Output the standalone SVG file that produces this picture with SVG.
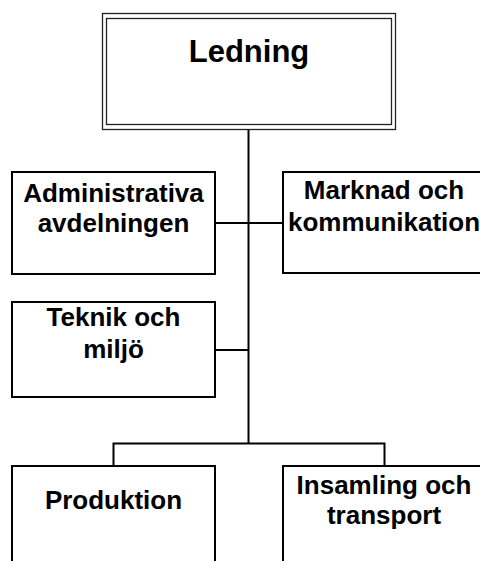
<svg xmlns="http://www.w3.org/2000/svg" width="480" height="561" viewBox="0 0 480 561">
<style>
.box{fill:#fff;stroke:#000;stroke-width:2}
.dbl{fill:none;stroke:#222;stroke-width:1.3}
.t{font-family:"Liberation Sans",Arial,sans-serif;font-weight:bold;font-size:26px;fill:#000;text-anchor:middle}
.big{font-size:31px}
.conn{fill:none;stroke:#000;stroke-width:2}
</style>
<rect width="480" height="561" fill="#fff"/>
<g id="connectors">
<path class="conn" d="M248.5 129V443.5M215 223H283M215 350H248.5M113.5 443.5H384.5M113.5 442.5V466M384.5 442.5V466"/>
</g>
<g id="ledning">
<rect x="102.5" y="13.5" width="293" height="116" fill="#fff" class="dbl"/>
<rect x="106.5" y="18.5" width="285" height="106" class="dbl"/>
<text class="t big" x="249" y="62">Ledning</text>
</g>
<g id="administrativa">
<rect class="box" x="12" y="172" width="203" height="102"/>
<text class="t" x="113.5" y="201.5">Administrativa</text>
<text class="t" x="113.5" y="231.5">avdelningen</text>
</g>
<g id="marknad">
<rect class="box" x="283" y="172" width="204" height="101"/>
<text class="t" x="384" y="199">Marknad och</text>
<text class="t" x="384" y="231">kommunikation</text>
</g>
<g id="teknik">
<rect class="box" x="12" y="302" width="203" height="95"/>
<text class="t" x="113.5" y="326">Teknik och</text>
<text class="t" x="113.5" y="357.5">miljö</text>
</g>
<g id="produktion">
<rect class="box" x="12" y="466" width="203" height="110"/>
<text class="t" x="113.5" y="509">Produktion</text>
</g>
<g id="insamling">
<rect class="box" x="283" y="466" width="204" height="110"/>
<text class="t" x="384" y="494">Insamling och</text>
<text class="t" x="384" y="523.5">transport</text>
</g>
</svg>
